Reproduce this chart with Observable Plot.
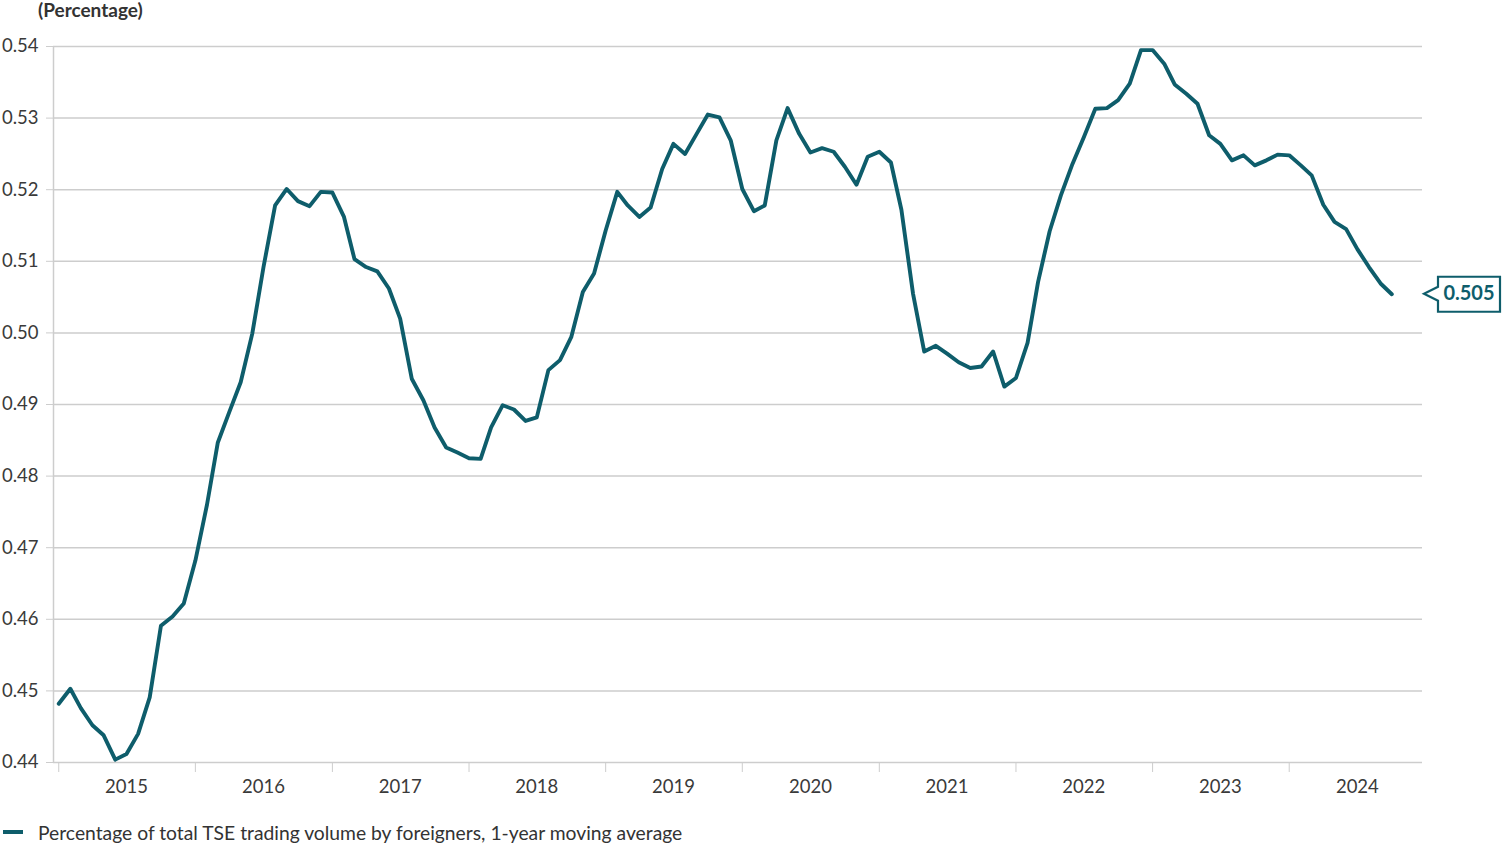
<!DOCTYPE html>
<html>
<head>
<meta charset="utf-8">
<script src="https://cdn.jsdelivr.net/npm/d3@7"></script>
<script src="https://cdn.jsdelivr.net/npm/@observablehq/plot@0.6"></script>
<style>
  body { margin: 0; background: #fff; }
  #wrap { position: relative; width: 1503px; height: 845px; font-family: Lato, "Open Sans", sans-serif; color: #3a3a3a; }
  #title { position: absolute; left: 38px; top: -2px; font-size: 19px; font-weight: bold; color: #333; white-space: nowrap; }
  #chart { position: absolute; left: 0; top: 0; }
  #legend { position: absolute; left: 3px; top: 820px; height: 24px; display: flex; align-items: center; font-size: 19.3px; color: #333; white-space: nowrap; }
  #legend .sw { display: inline-block; width: 20px; height: 4px; background: #0e5d6b; margin-right: 15px; }
</style>
</head>
<body>
<div id="wrap">
  <div id="chart"></div>
  <div id="title">(Percentage)</div>
  <div id="legend"><span class="sw"></span><span id="legendText"></span></div>
</div>
<script>
// ---- data ----
const startYear = 2015;               // first observation: January 2015, monthly
const seriesName = "Percentage of total TSE trading volume by foreigners, 1-year moving average";
const values = [
  0.4482, 0.4503, 0.4476, 0.4452, 0.4438, 0.4404, 0.4412, 0.4440, 0.4491, 0.4591, 0.4604, 0.4622, // 2015
  0.4682, 0.4760, 0.4847, 0.4890, 0.4931, 0.4999, 0.5092, 0.5178, 0.5201, 0.5184, 0.5177, 0.5197, // 2016
  0.5196, 0.5162, 0.5103, 0.5092, 0.5086, 0.5062, 0.5020, 0.4936, 0.4906, 0.4868, 0.4840, 0.4833, // 2017
  0.4825, 0.4824, 0.4868, 0.4899, 0.4893, 0.4877, 0.4882, 0.4948, 0.4962, 0.4994, 0.5057, 0.5083, // 2018
  0.5143, 0.5197, 0.5178, 0.5162, 0.5175, 0.5229, 0.5264, 0.5250, 0.5278, 0.5305, 0.5301, 0.5269, // 2019
  0.5201, 0.5170, 0.5178, 0.5269, 0.5314, 0.5278, 0.5252, 0.5258, 0.5253, 0.5232, 0.5207, 0.5246, // 2020
  0.5253, 0.5238, 0.5172, 0.5055, 0.4974, 0.4982, 0.4971, 0.4959, 0.4951, 0.4953, 0.4974, 0.4925, // 2021
  0.4937, 0.4986, 0.5071, 0.5142, 0.5192, 0.5236, 0.5273, 0.5313, 0.5314, 0.5325, 0.5348, 0.5395, // 2022
  0.5395, 0.5376, 0.5347, 0.5334, 0.5320, 0.5276, 0.5264, 0.5241, 0.5248, 0.5234, 0.5241, 0.5249, // 2023
  0.5248, 0.5234, 0.5220, 0.5179, 0.5155, 0.5145, 0.5117, 0.5092, 0.5069, 0.5054                  // 2024 (to Oct)
];
const yearLabels = ["2015","2016","2017","2018","2019","2020","2021","2022","2023","2024"];
const yTicks = [0.44, 0.45, 0.46, 0.47, 0.48, 0.49, 0.50, 0.51, 0.52, 0.53, 0.54];

// ---- build ----
const TEAL = "#0e5d6b";
const GRID = "#cdcdcd";
const FONT = "Lato, 'Open Sans', sans-serif";
const start = new Date(Date.UTC(startYear, 0, 1));
const data = values.map((v, i) => ({date: d3.utcMonth.offset(start, i), value: v}));
const yearStarts = yearLabels.map(y => new Date(Date.UTC(+y, 0, 1)));
const yearMids = yearLabels.map(y => ({date: new Date(Date.UTC(+y, 6, 1)), label: y}));
const xDomain = [new Date(Date.UTC(startYear - 1, 11, 18)), new Date(Date.UTC(+yearLabels[yearLabels.length - 1], 11, 22))];
const last = data[data.length - 1];

document.getElementById("legendText").textContent = seriesName;

function callout(index, scales, vals, dims) {
  const y = scales.y(last.value);
  const tip = dims.width - dims.marginRight + 2;
  const left = tip + 14, right = dims.width - 3;
  const top = y - 17, bot = y + 18;
  const g = d3.create("svg:g");
  g.append("path")
    .attr("d", `M${left},${top}H${right}V${bot}H${left}V${y + 7}L${tip},${y}L${left},${y - 7}Z`)
    .attr("fill", "white").attr("stroke", TEAL).attr("stroke-width", 2.2).attr("stroke-linejoin", "miter");
  g.append("text")
    .attr("x", (left + right) / 2).attr("y", y + 1)
    .attr("text-anchor", "middle").attr("dominant-baseline", "middle")
    .attr("fill", TEAL).attr("font-weight", "bold").attr("font-size", 20).attr("font-family", FONT)
    .text(d3.format(".3f")(last.value));
  return g.node();
}

const chart = Plot.plot({
  width: 1503,
  height: 805,
  marginTop: 46,
  marginBottom: 43,
  marginLeft: 53,
  marginRight: 81,
  style: {fontFamily: FONT, fontSize: "18.5px", color: "#3a3a3a", background: "white", overflow: "visible"},
  x: {type: "utc", domain: xDomain, axis: null},
  y: {domain: [0.44, 0.54], axis: null},
  marks: [
    Plot.gridY(yTicks, {stroke: GRID, strokeOpacity: 1, strokeWidth: 1.5}),
    Plot.ruleX([xDomain[0]], {stroke: GRID, strokeWidth: 1.5}),
    Plot.axisY({ticks: yTicks, tickFormat: d3.format(".2f"), tickSize: 7, tickPadding: 8, stroke: GRID, strokeOpacity: 1, fill: "#3a3a3a", label: null, fontSize: 18.5}),
    Plot.axisX({ticks: yearStarts, tickSize: 10, tickFormat: () => "", stroke: GRID, strokeOpacity: 1, label: null}),
    Plot.text(yearMids, {x: "date", text: "label", frameAnchor: "bottom", lineAnchor: "middle", dy: 25, fill: "#3a3a3a", fontSize: 18.5}),
    Plot.line(data, {x: "date", y: "value", stroke: TEAL, strokeWidth: 3.9, strokeLinejoin: "round", strokeLinecap: "round"}),
    callout
  ]
});
document.getElementById("chart").appendChild(chart);
</script>
</body>
</html>
